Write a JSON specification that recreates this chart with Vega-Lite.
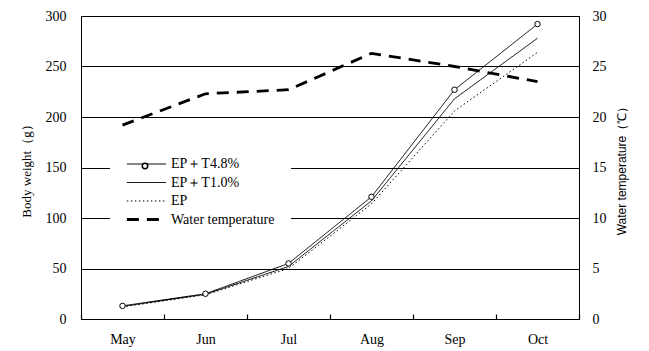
{
  "$schema": "https://vega.github.io/schema/vega-lite/v6.json",
  "width": 498,
  "height": 303,
  "autosize": "none",
  "padding": {"left": 81, "top": 16, "right": 70, "bottom": 32},
  "background": "white",
  "config": {
    "view": {"stroke": "black", "strokeWidth": 1},
    "font": "Liberation Serif",
    "axis": {
      "labelFont": "Liberation Serif",
      "labelFontSize": 14,
      "labelColor": "black",
      "titleFont": "Liberation Serif",
      "titleFontSize": 13,
      "titleFontWeight": "normal",
      "titleColor": "black",
      "domainColor": "black",
      "tickColor": "black"
    },
    "legend": {
      "labelFont": "Liberation Serif",
      "labelFontSize": 14,
      "labelColor": "black"
    }
  },
  "datasets": {
    "weight": [
      {"month": "May", "series": "EP＋T4.8%", "weight": 13},
      {"month": "Jun", "series": "EP＋T4.8%", "weight": 25},
      {"month": "Jul", "series": "EP＋T4.8%", "weight": 55},
      {"month": "Aug", "series": "EP＋T4.8%", "weight": 121},
      {"month": "Sep", "series": "EP＋T4.8%", "weight": 227},
      {"month": "Oct", "series": "EP＋T4.8%", "weight": 292},
      {"month": "May", "series": "EP＋T1.0%", "weight": 12.5},
      {"month": "Jun", "series": "EP＋T1.0%", "weight": 24.5},
      {"month": "Jul", "series": "EP＋T1.0%", "weight": 52},
      {"month": "Aug", "series": "EP＋T1.0%", "weight": 117},
      {"month": "Sep", "series": "EP＋T1.0%", "weight": 218},
      {"month": "Oct", "series": "EP＋T1.0%", "weight": 278},
      {"month": "May", "series": "EP", "weight": 12},
      {"month": "Jun", "series": "EP", "weight": 24},
      {"month": "Jul", "series": "EP", "weight": 50},
      {"month": "Aug", "series": "EP", "weight": 114},
      {"month": "Sep", "series": "EP", "weight": 206},
      {"month": "Oct", "series": "EP", "weight": 264}
    ],
    "temp": [
      {"month": "May", "series": "Water temperature", "temp": 19.2},
      {"month": "Jun", "series": "Water temperature", "temp": 22.3},
      {"month": "Jul", "series": "Water temperature", "temp": 22.7},
      {"month": "Aug", "series": "Water temperature", "temp": 26.3},
      {"month": "Sep", "series": "Water temperature", "temp": 25.0},
      {"month": "Oct", "series": "Water temperature", "temp": 23.5}
    ]
  },
  "layer": [
    {
      "layer": [
        {
          "data": {"name": "weight"},
          "mark": {"type": "line", "color": "black", "strokeWidth": 1},
          "encoding": {
            "x": {
              "field": "month", "type": "ordinal",
              "sort": ["May", "Jun", "Jul", "Aug", "Sep", "Oct"],
              "scale": {"type": "band", "paddingInner": 0, "paddingOuter": 0},
              "axis": {"title": null, "labelAngle": 0, "ticks": true, "tickBand": "extent", "tickSize": -5, "tickWidth": 1.2, "tickOpacity": 1, "labelPadding": 18, "grid": false}
            },
            "y": {
              "field": "weight", "type": "quantitative",
              "scale": {"domain": [0, 300], "nice": false},
              "axis": {
                "title": "Body weight（g）",
                "values": [0, 50, 100, 150, 200, 250, 300],
                "grid": true, "gridColor": "black", "gridOpacity": 1, "gridWidth": 1,
                "ticks": false, "labelPadding": 15, "titlePadding": 12
              }
            },
            "strokeDash": {
              "field": "series", "type": "nominal",
              "scale": {
                "domain": ["EP＋T4.8%", "EP＋T1.0%", "EP", "Water temperature"],
                "range": [[1, 0], [1, 0], [1.5, 2.5], [12, 8]]
              },
              "legend": {
                "title": null, "orient": "none", "legendX": 29, "legendY": 125,
                "symbolType": "M-1,0H5.4", "symbolSize": 150, "symbolStrokeColor": "black",
                "symbolFillColor": "transparent",
                "fillColor": "white", "padding": 16, "rowPadding": 4.5, "labelOffset": 31,
                "encode": {
                  "symbols": {"update": {
                    "strokeWidth": {"signal": "datum.value === 'Water temperature' ? 2.8 : 1"}
                  }}
                }
              }
            }
          }
        },
        {
          "data": {"name": "weight"},
          "transform": [{"filter": "datum.series === 'EP＋T4.8%'"}],
          "mark": {"type": "point", "filled": true, "fill": "white", "stroke": "black", "strokeWidth": 1, "size": 30, "opacity": 1},
          "encoding": {
            "x": {"field": "month", "type": "ordinal", "sort": ["May", "Jun", "Jul", "Aug", "Sep", "Oct"]},
            "y": {"field": "weight", "type": "quantitative"},
            "shape": {
              "field": "series", "type": "nominal",
              "scale": {"domain": ["EP＋T4.8%"], "range": ["circle"]},
              "legend": {
                "title": null, "orient": "none", "legendX": 57, "legendY": 143,
                "padding": 0, "labelExpr": "''", "symbolSize": 30, "labelFontSize": 14, "zindex": 5,
                "encode": {
                  "symbols": {"update": {
                    "fill": {"value": "white"},
                    "stroke": {"value": "black"},
                    "strokeWidth": {"value": 1},
                    "opacity": {"value": 1}
                  }}
                }
              }
            }
          }
        }
      ]
    },
    {
      "data": {"name": "temp"},
      "mark": {"type": "line", "color": "black", "strokeWidth": 2.8},
      "encoding": {
        "x": {"field": "month", "type": "ordinal", "sort": ["May", "Jun", "Jul", "Aug", "Sep", "Oct"]},
        "y": {
          "field": "temp", "type": "quantitative",
          "scale": {"domain": [0, 30], "nice": false},
          "axis": {
            "orient": "right", "title": "Water temperature（℃）",
            "titleFont": "Liberation Sans", "titleFontSize": 12, "titleAngle": 270,
            "values": [0, 5, 10, 15, 20, 25, 30],
            "grid": false, "ticks": false, "labelPadding": 13, "titlePadding": 22
          }
        },
        "strokeDash": {"field": "series", "type": "nominal"}
      }
    }
  ],
  "resolve": {"scale": {"y": "independent"}}
}
